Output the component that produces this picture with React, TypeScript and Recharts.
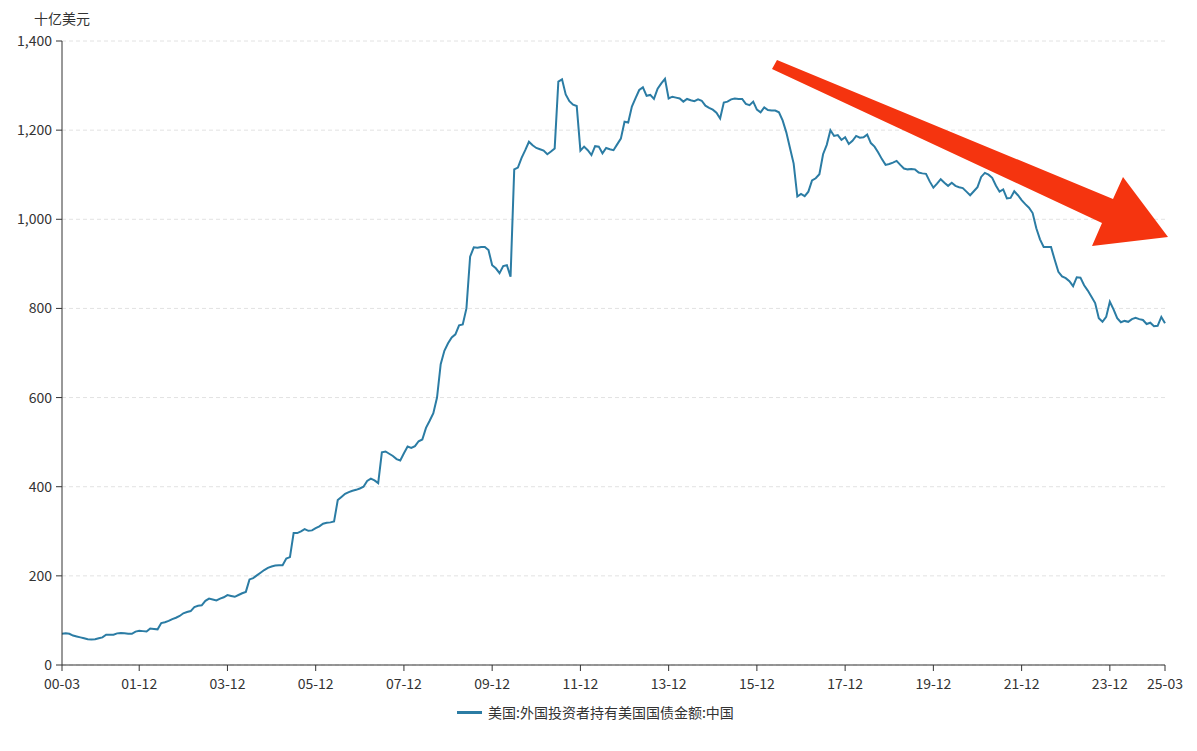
import { CartesianGrid, Line, LineChart, XAxis, YAxis } from "recharts";

// 月度标签 00-03 … 25-03
const months: string[] = [];
for (let i = 0; i <= 300; i++) {
  const t = 2 + i;
  const yy = String(Math.floor(t / 12) % 100).padStart(2, "0");
  const mm = String((t % 12) + 1).padStart(2, "0");
  months.push(`${yy}-${mm}`);
}

const xTickLabels = [
  "00-03", "01-12", "03-12", "05-12", "07-12", "09-12", "11-12",
  "13-12", "15-12", "17-12", "19-12", "21-12", "23-12", "25-03",
];

const yTicks = [0, 200, 400, 600, 800, 1000, 1200, 1400];

// 美国:外国投资者持有美国国债金额:中国 (十亿美元)
const holdings2000 = [70, 71, 70, 66, 64, 62, 60, 58, 57, 58];
const holdings2001_2008 = [
  60, 62, 68, 68, 68, 71, 72, 71, 70, 70, 75, 77,
  76, 75, 82, 81, 80, 94, 96, 99, 103, 106, 110, 116,
  119, 121, 130, 133, 134, 144, 149, 147, 145, 149, 152, 157,
  155, 153, 157, 161, 164, 192, 195, 201, 207, 213, 218, 221,
  223, 224, 224, 239, 242, 296, 296, 300, 305, 301, 302, 307,
  311, 317, 319, 320, 322, 370, 377, 384, 388, 391, 393, 396,
  400, 413, 418, 414, 408, 477, 479, 474, 469, 462, 459, 475,
  490, 487, 491, 502, 506, 532, 548, 565, 600, 675, 705, 722,
];
const holdings2009_2016 = [
  735, 742, 762, 764, 800, 916, 937, 936, 938, 938, 931, 897,
  890, 879, 895, 897, 871, 1112, 1116, 1138, 1155, 1174, 1166, 1160,
  1157, 1154, 1146, 1152, 1159, 1309, 1314, 1280, 1265, 1257, 1254, 1154,
  1163, 1155, 1144, 1164, 1163, 1148, 1160, 1157, 1155, 1168, 1181, 1219,
  1217, 1253, 1272, 1290, 1296, 1277, 1279, 1270, 1293, 1305, 1315, 1271,
  1275, 1273, 1271, 1264, 1270, 1267, 1265, 1269, 1266, 1255, 1250, 1246,
  1239, 1226, 1262, 1264, 1269, 1271, 1270, 1270, 1259, 1256, 1264, 1246,
  1240, 1251, 1245, 1244, 1244, 1240, 1222, 1195, 1160, 1125, 1051, 1057,
];
const holdings2017_2025 = [
  1052, 1062, 1087, 1092, 1101, 1146, 1167, 1200, 1187, 1189, 1178, 1184,
  1169, 1176, 1187, 1183, 1184, 1190, 1171, 1163, 1150, 1135, 1122, 1124,
  1127, 1131, 1122, 1114, 1112, 1113, 1112, 1105, 1103, 1102, 1085, 1071,
  1080, 1090, 1082, 1075, 1082, 1075, 1072, 1070, 1062, 1054, 1063, 1072,
  1095, 1104, 1100, 1093, 1076, 1062, 1067, 1047, 1048, 1063, 1054, 1043,
  1034, 1026, 1014, 980, 955, 938, 938, 938, 909, 882, 872, 868,
  861, 850, 870, 869, 852, 840, 826, 812, 778, 770, 781, 815,
  798, 778, 769, 772, 770, 776, 779, 776, 774, 765, 768, 760,
  761, 781, 767,
];

const holdings = [
  ...holdings2000,
  ...holdings2001_2008,
  ...holdings2009_2016,
  ...holdings2017_2025,
];

const data = months.map((label, i) => ({ i, label, value: holdings[i] }));
const xTicks = xTickLabels.map((l) => months.indexOf(l));

const FONT = '"Microsoft YaHei", "Noto Sans CJK SC", sans-serif';
const LINE_COLOR = "#2b7ca4";
const AXIS_COLOR = "#333";

export default function App() {
  return (
    <div
      style={{
        position: "absolute",
        left: 0,
        top: 0,
        width: 1197,
        height: 751,
        background: "#fff",
        fontFamily: FONT,
      }}
    >
      <LineChart
        width={1197}
        height={751}
        data={data}
        margin={{ top: 41, right: 32, bottom: 56, left: 0 }}
      >
        <CartesianGrid
          vertical={false}
          stroke="#e2e2e2"
          strokeDasharray="4 3"
        />
        <XAxis
          dataKey="i"
          type="number"
          domain={[0, 300]}
          ticks={xTicks}
          interval={0}
          height={30}
          tickFormatter={(v: number) => months[v]}
          tick={{ fontSize: 14, fill: AXIS_COLOR, fontFamily: FONT }}
          tickSize={6}
          tickMargin={8}
          axisLine={{ stroke: AXIS_COLOR }}
          tickLine={{ stroke: AXIS_COLOR }}
        />
        <YAxis
          domain={[0, 1400]}
          ticks={yTicks}
          width={62}
          tickFormatter={(v: number) => v.toLocaleString("en-US")}
          tick={{ fontSize: 14, fill: AXIS_COLOR, fontFamily: FONT }}
          tickSize={6}
          tickMargin={4}
          axisLine={{ stroke: AXIS_COLOR }}
          tickLine={{ stroke: AXIS_COLOR }}
        />
        <Line
          type="linear"
          dataKey="value"
          stroke={LINE_COLOR}
          strokeWidth={2}
          dot={false}
          isAnimationActive={false}
        />
      </LineChart>

      <div
        style={{
          position: "absolute",
          left: 34,
          top: 9,
          fontSize: 14,
          color: AXIS_COLOR,
          lineHeight: "18px",
        }}
      >
        十亿美元
      </div>

      <svg
        width={1197}
        height={751}
        style={{ position: "absolute", left: 0, top: 0, pointerEvents: "none" }}
      >
        <polygon
          points="777,60 1113,199 1123,177 1168,237 1092,246 1102,223 772,69"
          fill="#f5340f"
        />
      </svg>

      <div
        style={{
          position: "absolute",
          left: 457,
          top: 703,
          display: "flex",
          alignItems: "center",
          fontSize: 14,
          color: AXIS_COLOR,
          lineHeight: "18px",
        }}
      >
        <span
          style={{
            display: "inline-block",
            width: 25,
            height: 3,
            background: LINE_COLOR,
            marginRight: 6,
          }}
        />
        美国:外国投资者持有美国国债金额:中国
      </div>
    </div>
  );
}
